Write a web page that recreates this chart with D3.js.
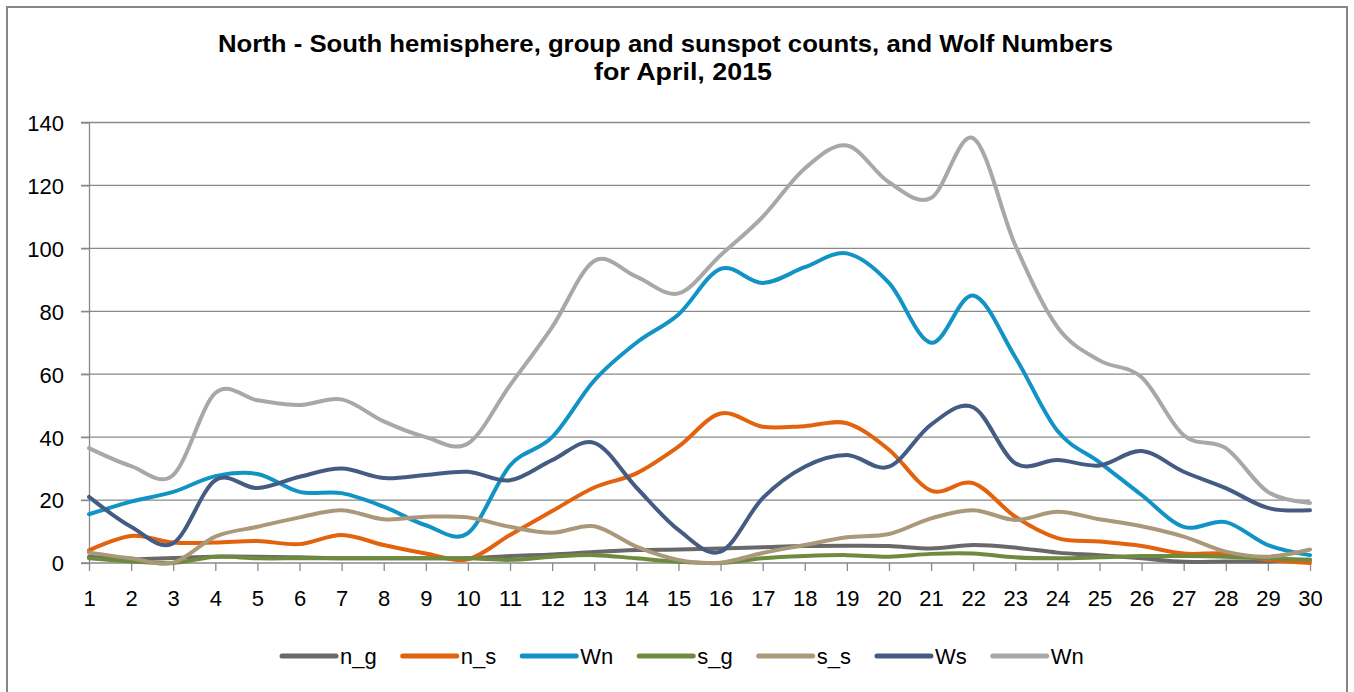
<!DOCTYPE html>
<html>
<head>
<meta charset="utf-8">
<script src="https://cdn.jsdelivr.net/npm/d3@7"></script>
<style>
  body { margin: 0; background: #fff; }
  svg { display: block; font-family: "Liberation Sans", Arial, sans-serif; }
  .grid line { stroke: #898989; stroke-width: 1.3; }
  .axis path, .axis line { stroke: #898989; stroke-width: 1.3; }
  .axis text { font-size: 22px; fill: #000; }
  .series { fill: none; stroke-width: 4; stroke-linecap: round; stroke-linejoin: round; }
</style>
</head>
<body>
<svg id="chart" width="1354" height="692"></svg>
<script>
// days of April 2015
var days = d3.range(1, 31);
var yTicks = [0, 20, 40, 60, 80, 100, 120, 140];

var seriesNames = ["n_g", "n_s", "Wn", "s_g", "s_s", "Ws", "Wn"];
var seriesColors = ["#696969", "#E2620E", "#1193C5", "#6E8B3D", "#A99879", "#445C83", "#A8A8A8"];

var n_g = [2, 1.2, 1.6, 2, 2, 1.8, 1.5, 1.5, 1.5, 1.5, 2.2, 2.7, 3.5, 4.1, 4.3, 4.6, 5, 5.4, 5.5, 5.4,
           4.6, 5.7, 4.9, 3.3, 2.5, 1.5, 0.4, 0.5, 0.5, 1];
var n_s = [4, 8.6, 6.5, 6.5, 7, 6, 8.9, 5.7, 3, 1.2, 8.9, 16.5, 24, 28.5, 37, 47.5, 43.3, 43.5, 44.4, 36,
           23, 25.4, 14.7, 7.9, 6.8, 5.4, 3, 3, 1, 0];
var Wn_blue = [15.5, 19.5, 22.6, 27.6, 28.3, 22.6, 22.2, 17.9, 12, 9.5, 31, 40, 58, 70, 79, 93.5, 89, 94, 98.4, 89,
               70, 85, 65.4, 42, 32, 21.6, 11.5, 13, 5.7, 2.5];
var s_g = [1.5, 0.5, 0, 2, 1.5, 1.5, 1.5, 1.5, 1.5, 1.5, 1, 2, 2.5, 1.5, 0.4, 0, 1.5, 2.2, 2.5, 2,
           2.9, 3, 1.8, 1.5, 1.8, 2.2, 2.2, 2, 1.5, 1];
var s_s = [3.3, 1.5, 0.1, 8.4, 11.5, 14.5, 16.8, 13.9, 14.7, 14.5, 11.5, 9.6, 11.7, 5.2, 1, 0.1, 3.2, 5.7, 8.2, 9.2,
           14.2, 16.8, 13.7, 16.3, 13.9, 11.7, 8.4, 3.6, 2, 4.3];
var Ws = [21, 11.5, 6.3, 26.3, 23.8, 27.4, 30, 27, 28, 29, 26.3, 32.7, 38.2, 24, 10.5, 3.6, 20.6, 30.6, 34.3, 30.6,
          44, 49.5, 31.7, 32.7, 31, 35.6, 29, 23.8, 17.5, 16.8];
var Wn_gray = [36.5, 30.8, 28, 54, 51.7, 50.2, 52, 45, 40, 38, 56.5, 75, 96, 91, 85.7, 97.8, 110, 125.4, 132.7, 121,
               116, 135, 101, 75, 64.4, 59, 40.6, 36.5, 22.6, 19.1];

var seriesValues = [n_g, n_s, Wn_blue, s_g, s_s, Ws, Wn_gray];

var svg = d3.select("#chart");

// outer chart frame
svg.append("rect")
    .attr("x", 7).attr("y", 7)
    .attr("width", 1340).attr("height", 700)
    .attr("fill", "none")
    .attr("stroke", "#868686")
    .attr("stroke-width", 2);

// title (glyphs stretched a little to match the original's width)
var title = svg.append("text")
    .style("font-size", "24px")
    .style("font-weight", "bold");
title.append("tspan").attr("x", 218).attr("y", 52)
    .attr("textLength", 895).attr("lengthAdjust", "spacingAndGlyphs")
    .text("North - South hemisphere, group and sunspot counts, and Wolf Numbers");
title.append("tspan").attr("x", 594).attr("y", 80)
    .attr("textLength", 178).attr("lengthAdjust", "spacingAndGlyphs")
    .text("for April, 2015");

var x = d3.scaleLinear().domain([1, 30]).range([89, 1310]);
var y = d3.scaleLinear().domain([0, 140]).range([563, 122.5]);

// horizontal gridlines
svg.append("g").attr("class", "grid")
    .selectAll("line").data(yTicks.slice(1)).enter()
    .append("line")
    .attr("x1", 81).attr("x2", 1310)
    .attr("y1", function(d){ return y(d); })
    .attr("y2", function(d){ return y(d); });

// y axis
var yAxis = svg.append("g").attr("class", "axis")
    .attr("transform", "translate(89,0)")
    .call(d3.axisLeft(y).tickValues(yTicks).tickSize(8).tickPadding(17).tickSizeOuter(0));
yAxis.selectAll("text").attr("dy", "0.36em");

// x axis
var xAxis = svg.append("g").attr("class", "axis")
    .attr("transform", "translate(0,563)")
    .call(d3.axisBottom(x).tickValues(days).tickFormat(d3.format("d")).tickSize(8).tickPadding(19).tickSizeOuter(0));
xAxis.select(".domain").attr("d", "M81,0H1310");

// series lines
var line = d3.line()
    .x(function(d, i){ return x(days[i]); })
    .y(function(d){ return y(d); })
    .curve(d3.curveCardinal.tension(0));

svg.append("g").selectAll("path").data(seriesValues).enter()
    .append("path")
    .attr("class", "series")
    .attr("stroke", function(d, i){ return seriesColors[i]; })
    .attr("d", line);

// legend
var legend = svg.append("g").attr("transform", "translate(282,656)");
var lx = 0;
seriesNames.forEach(function(name, i){
    var item = legend.append("g").attr("transform", "translate(" + lx + ",0)");
    item.append("line")
        .attr("x1", 0).attr("x2", 54)
        .attr("stroke", seriesColors[i])
        .attr("stroke-width", 5)
        .attr("stroke-linecap", "round");
    var t = item.append("text")
        .attr("x", 58).attr("dy", "0.36em")
        .style("font-size", "22px")
        .text(name);
    lx += 58 + t.node().getComputedTextLength() + 26;
});
</script>
</body>
</html>
